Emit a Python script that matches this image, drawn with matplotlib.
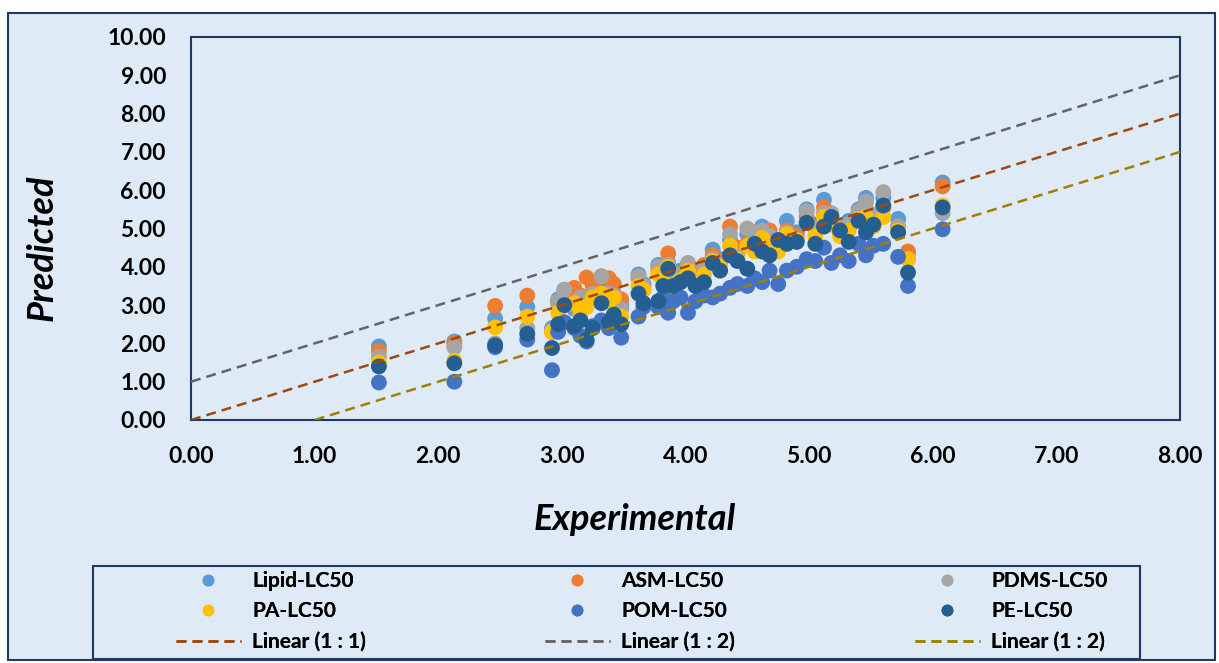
import matplotlib
matplotlib.use("Agg")
import matplotlib.pyplot as plt
from matplotlib.patches import Rectangle
from matplotlib.lines import Line2D

plt.rcParams['font.family'] = ['Lato', 'DejaVu Sans']

experimental = [1.52, 2.13, 2.46, 2.72, 2.92, 2.97, 3.02, 3.10, 3.15, 3.20, 3.25, 3.32, 3.38, 3.42,
                3.48, 3.62, 3.66, 3.78, 3.82, 3.86, 3.90, 3.96, 4.02, 4.08, 4.15, 4.22, 4.28, 4.36,
                4.42, 4.50, 4.56, 4.62, 4.68, 4.75, 4.82, 4.90, 4.98, 5.05, 5.12, 5.18, 5.25, 5.32,
                5.40, 5.46, 5.52, 5.60, 5.72, 5.80, 6.08]

lipid = [1.92, 2.05, 2.65, 2.95, 2.40, 3.15, 3.40, 2.90, 3.10, 3.20, 3.30, 3.45, 3.20, 3.30,
         3.00, 3.80, 3.55, 4.05, 3.90, 4.10, 3.70, 3.90, 4.05, 3.75, 4.00, 4.45, 4.20, 4.70,
         4.40, 4.85, 4.60, 5.05, 4.70, 4.50, 5.20, 4.90, 5.50, 5.10, 5.75, 5.35, 5.00, 5.20,
         5.50, 5.80, 5.30, 5.80, 5.25, 4.35, 6.20]
asm = [1.80, 2.00, 2.98, 3.25, 2.30, 3.05, 3.20, 3.45, 3.25, 3.72, 3.50, 3.75, 3.70, 3.55,
       3.15, 3.70, 3.40, 3.90, 3.80, 4.35, 3.85, 3.70, 3.95, 3.80, 4.05, 4.30, 4.15, 5.05,
       4.50, 4.60, 4.90, 4.80, 4.95, 4.60, 4.95, 4.80, 5.30, 5.00, 5.55, 5.20, 4.90, 5.00,
       5.40, 5.50, 5.20, 5.55, 5.05, 4.40, 6.10]
pdms = [1.65, 1.90, 2.00, 2.40, 2.35, 3.10, 3.40, 3.00, 3.20, 3.10, 3.30, 3.75, 3.30, 3.25,
        2.90, 3.75, 3.50, 4.00, 3.70, 4.05, 3.60, 3.80, 4.10, 3.70, 3.95, 4.20, 4.05, 4.85,
        4.30, 5.00, 4.70, 4.95, 4.80, 4.50, 4.90, 4.70, 5.45, 5.00, 5.40, 5.40, 5.00, 5.10,
        5.45, 5.70, 5.35, 5.95, 5.05, 4.20, 5.40]
pa = [1.50, 1.55, 2.42, 2.70, 2.30, 2.80, 3.00, 3.05, 2.75, 2.95, 3.20, 3.30, 3.10, 3.20,
      2.70, 3.50, 3.40, 3.80, 3.60, 4.00, 3.50, 3.65, 3.90, 3.55, 3.80, 4.15, 4.00, 4.55,
      4.20, 4.55, 4.40, 4.75, 4.55, 4.40, 4.85, 4.70, 5.15, 4.80, 5.30, 5.10, 4.80, 4.95,
      5.25, 5.30, 5.05, 5.30, 4.95, 4.20, 5.60]
pom = [0.98, 1.00, 1.90, 2.10, 1.30, 2.30, 2.55, 2.40, 2.20, 2.05, 2.45, 2.60, 2.40, 2.55,
       2.15, 2.70, 2.95, 2.95, 3.20, 2.80, 3.10, 3.20, 2.80, 3.10, 3.25, 3.20, 3.30, 3.45,
       3.55, 3.50, 3.70, 3.60, 3.90, 3.55, 3.90, 4.00, 4.20, 4.15, 4.50, 4.10, 4.30, 4.15,
       4.60, 4.30, 4.55, 4.60, 4.26, 3.50, 4.98]
pe = [1.40, 1.48, 1.95, 2.25, 1.88, 2.50, 3.00, 2.45, 2.60, 2.10, 2.40, 3.05, 2.55, 2.75,
      2.50, 3.30, 3.05, 3.10, 3.50, 3.95, 3.50, 3.60, 3.70, 3.50, 3.60, 4.10, 3.90, 4.30,
      4.15, 3.95, 4.60, 4.40, 4.30, 4.70, 4.60, 4.65, 5.15, 4.60, 5.05, 5.30, 4.95, 4.65,
      5.20, 4.90, 5.10, 5.60, 4.90, 3.85, 5.55]

series_names = ["Lipid-LC50", "ASM-LC50", "PDMS-LC50", "PA-LC50", "POM-LC50", "PE-LC50"]
series_values = [lipid, asm, pdms, pa, pom, pe]
series_colors = ["#5B9BD5", "#ED7D31", "#A5A5A5", "#FFC000", "#4472C4", "#255E91"]

line_11_x = [0, 8]
line_11_y = [0, 8]
line_up_x = [0, 8]
line_up_y = [1, 9]
line_lo_x = [1, 8]
line_lo_y = [0, 7]

x_ticks = [0, 1, 2, 3, 4, 5, 6, 7, 8]
y_ticks = [0, 1, 2, 3, 4, 5, 6, 7, 8, 9, 10]

bg = "#DEEBF7"
navy = "#1F3864"
W, H = 1219, 663

fig = plt.figure(figsize=(12.19, 6.63), dpi=100)
fig.patch.set_facecolor("white")
fig.patches.append(Rectangle((8 / W, 3 / H), 1207 / W, 647 / H,
                             transform=fig.transFigure, facecolor=bg,
                             edgecolor=navy, linewidth=1.5, zorder=-5))
# legend box
fig.patches.append(Rectangle((93 / W, 4 / H), 1047 / W, 93 / H,
                             transform=fig.transFigure, facecolor=bg,
                             edgecolor=navy, linewidth=1.5, zorder=-4))

ax = fig.add_axes([191 / W, 1 - 420 / H, 989 / W, 383 / H])
ax.set_facecolor(bg)

handles = {}
for name, vals, col in zip(series_names, series_values, series_colors):
    ax.scatter(experimental, vals, s=130, color=col, edgecolors='none', zorder=3)
    handles[name] = Line2D([], [], marker='o', linestyle='none', markersize=8.5,
                           markerfacecolor=col, markeredgecolor='none')

dash = (0, (4, 2.4))
l1, = ax.plot(line_11_x, line_11_y, linestyle=dash, color="#A0480F", lw=1.8, zorder=4)
l2, = ax.plot(line_up_x, line_up_y, linestyle=dash, color="#646464", lw=1.8, zorder=4)
l3, = ax.plot(line_lo_x, line_lo_y, linestyle=dash, color="#A07E00", lw=1.8, zorder=4)

ax.set_xlim(0, 8)
ax.set_ylim(0, 10)
ax.set_xticks(x_ticks)
ax.set_yticks(y_ticks)
ax.set_xticklabels([f"{v:.2f}" for v in x_ticks])
ax.set_yticklabels([f"{v:.2f}" for v in y_ticks])
ax.tick_params(length=0, labelsize=16.5)
ax.tick_params(axis='y', pad=18)
ax.tick_params(axis='x', pad=19)
for lab in ax.get_xticklabels() + ax.get_yticklabels():
    lab.set_fontweight('bold')
for sp in ax.spines.values():
    sp.set_color(navy)
    sp.set_linewidth(1.5)

fig.text(42 / W, 1 - 248 / H, "Predicted", rotation=90, ha='center', va='center',
         fontsize=26, fontweight='bold', fontstyle='italic')
fig.text(635 / W, 1 - 520 / H, "Experimental", ha='center', va='center',
         fontsize=26, fontweight='bold', fontstyle='italic')

columns = [
    ([handles["Lipid-LC50"], handles["PA-LC50"], l1],
     ["Lipid-LC50", "PA-LC50", "Linear (1 : 1)"], 176),
    ([handles["ASM-LC50"], handles["POM-LC50"], l2],
     ["ASM-LC50", "POM-LC50", "Linear (1 : 2)"], 545),
    ([handles["PDMS-LC50"], handles["PE-LC50"], l3],
     ["PDMS-LC50", "PE-LC50", "Linear (1 : 2)"], 915),
]
for hs, labs, x0 in columns:
    leg = fig.legend(hs, labs, ncol=1, loc='upper left',
                     bbox_to_anchor=(x0 / W, 1 - 571 / H),
                     frameon=False, prop={'weight': 'bold', 'size': 15},
                     handlelength=3.1, handletextpad=0.55, labelspacing=0.5,
                     borderaxespad=0.0, borderpad=0.0)
    fig.add_artist(leg)

fig.savefig("out.png", dpi=100, facecolor=fig.get_facecolor())
